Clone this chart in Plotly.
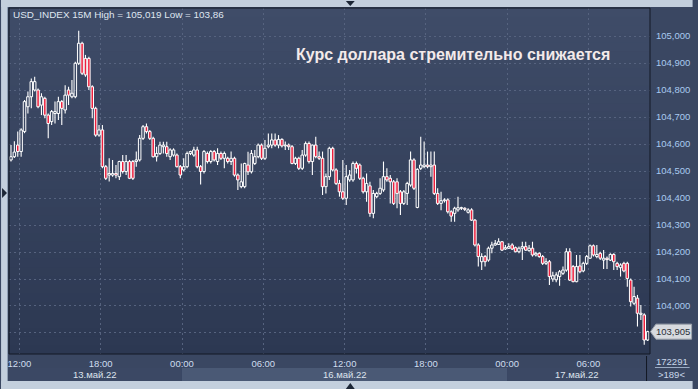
import plotly.graph_objects as go

# ---------------- data (USD_INDEX, 15M candles) ----------------
open_ = [
    104.541, 104.553, 104.596, 104.572, 104.646, 104.738, 104.775, 104.800, 104.800, 104.744,
    104.769, 104.707, 104.683, 104.713, 104.713, 104.757, 104.726, 104.800, 104.775, 104.775,
    104.899, 104.973, 104.917, 104.917, 104.812, 104.732, 104.633, 104.652, 104.516, 104.485,
    104.485, 104.491, 104.479, 104.535, 104.498, 104.535, 104.535, 104.535, 104.541, 104.621,
    104.664, 104.646, 104.621, 104.553, 104.565, 104.590, 104.590, 104.553, 104.559, 104.559,
    104.516, 104.504, 104.516, 104.565, 104.559, 104.578, 104.516, 104.498, 104.565, 104.535,
    104.572, 104.535, 104.565, 104.547, 104.547, 104.535, 104.547, 104.485,
    104.442, 104.442, 104.522, 104.497, 104.528, 104.553, 104.596, 104.547, 104.590, 104.596,
    104.615, 104.596, 104.617, 104.593, 104.596, 104.590, 104.528, 104.547, 104.510, 104.559,
    104.602, 104.535, 104.596, 104.553, 104.547, 104.442, 104.479, 104.584, 104.504, 104.454,
    104.423, 104.399, 104.467, 104.467, 104.528, 104.522, 104.473, 104.423, 104.445, 104.343,
    104.405, 104.417, 104.430, 104.479, 104.473, 104.460, 104.460, 104.423, 104.380, 104.417,
    104.448, 104.541, 104.365, 104.510, 104.516, 104.522, 104.516, 104.522, 104.417, 104.380,
    104.390, 104.393, 104.349,
    104.343, 104.356, 104.362, 104.362, 104.347, 104.356, 104.318, 104.226, 104.164, 104.183,
    104.170, 104.214, 104.226, 104.228, 104.238, 104.211, 104.214, 104.226, 104.216, 104.201,
    104.214, 104.220, 104.205, 104.214, 104.189, 104.195, 104.183, 104.158, 104.164, 104.100,
    104.097, 104.109, 104.121, 104.133, 104.201, 104.146, 104.090, 104.148, 104.130, 104.158,
    104.177, 104.223, 104.183, 104.195, 104.170, 104.177, 104.170, 104.191, 104.158, 104.142,
    104.158, 104.158, 104.096, 104.010, 104.029, 103.969, 103.967, 103.874,
]
high = [
    104.596, 104.610, 104.646, 104.658, 104.763, 104.794, 104.843, 104.849, 104.806, 104.788,
    104.775, 104.713, 104.726, 104.757, 104.775, 104.763, 104.818, 104.812, 104.837, 104.905,
    105.019, 104.979, 104.930, 104.923, 104.818, 104.738, 104.670, 104.670, 104.522, 104.547,
    104.541, 104.522, 104.538, 104.559, 104.559, 104.541, 104.541, 104.572, 104.633, 104.670,
    104.676, 104.652, 104.627, 104.590, 104.608, 104.608, 104.608, 104.584, 104.584, 104.565,
    104.522, 104.547, 104.572, 104.575, 104.590, 104.590, 104.522, 104.578, 104.572, 104.578,
    104.578, 104.584, 104.572, 104.572, 104.553, 104.572, 104.553, 104.491,
    104.528, 104.531, 104.571, 104.578, 104.578, 104.602, 104.602, 104.615, 104.639, 104.639,
    104.639, 104.633, 104.621, 104.609, 104.602, 104.596, 104.553, 104.553, 104.578, 104.609,
    104.609, 104.598, 104.627, 104.572, 104.572, 104.491, 104.590, 104.590, 104.510, 104.467,
    104.541, 104.522, 104.504, 104.535, 104.535, 104.528, 104.479, 104.491, 104.460, 104.430,
    104.423, 104.473, 104.535, 104.510, 104.485, 104.467, 104.473, 104.430, 104.430, 104.460,
    104.572, 104.547, 104.510, 104.627, 104.609, 104.572, 104.572, 104.572, 104.436, 104.423,
    104.399, 104.399, 104.355,
    104.368, 104.405, 104.368, 104.366, 104.362, 104.362, 104.322, 104.232, 104.195, 104.189,
    104.220, 104.238, 104.244, 104.251, 104.241, 104.226, 104.232, 104.232, 104.220, 104.220,
    104.238, 104.238, 104.226, 104.238, 104.201, 104.199, 104.189, 104.177, 104.170, 104.127,
    104.125, 104.133, 104.146, 104.214, 104.214, 104.152, 104.189, 104.189, 104.164, 104.189,
    104.228, 104.228, 104.226, 104.201, 104.207, 104.183, 104.195, 104.195, 104.164, 104.158,
    104.164, 104.164, 104.102, 104.071, 104.041, 104.004, 103.973, 103.908,
]
low = [
    104.535, 104.548, 104.553, 104.553, 104.640, 104.713, 104.732, 104.794, 104.732, 104.707,
    104.695, 104.621, 104.670, 104.676, 104.689, 104.670, 104.713, 104.744, 104.769, 104.769,
    104.893, 104.856, 104.849, 104.800, 104.695, 104.627, 104.627, 104.510, 104.467, 104.461,
    104.479, 104.473, 104.467, 104.491, 104.485, 104.470, 104.467, 104.516, 104.535, 104.615,
    104.639, 104.615, 104.550, 104.535, 104.559, 104.565, 104.553, 104.541, 104.553, 104.513,
    104.473, 104.498, 104.510, 104.559, 104.553, 104.510, 104.450, 104.491, 104.528, 104.528,
    104.535, 104.522, 104.541, 104.510, 104.528, 104.522, 104.479, 104.430,
    104.436, 104.436, 104.485, 104.491, 104.522, 104.547, 104.541, 104.541, 104.584, 104.584,
    104.590, 104.584, 104.587, 104.578, 104.578, 104.525, 104.522, 104.504, 104.504, 104.553,
    104.528, 104.485, 104.547, 104.541, 104.411, 104.417, 104.467, 104.498, 104.448, 104.405,
    104.393, 104.374, 104.460, 104.460, 104.491, 104.467, 104.417, 104.386, 104.331, 104.325,
    104.399, 104.411, 104.423, 104.460, 104.380, 104.374, 104.362, 104.337, 104.374, 104.374,
    104.442, 104.430, 104.362, 104.504, 104.510, 104.510, 104.479, 104.411, 104.374, 104.355,
    104.383, 104.343, 104.312,
    104.312, 104.349, 104.356, 104.352, 104.343, 104.315, 104.220, 104.146, 104.133, 104.146,
    104.164, 104.195, 104.223, 104.226, 104.204, 104.207, 104.211, 104.207, 104.199, 104.195,
    104.170, 104.204, 104.201, 104.183, 104.183, 104.179, 104.152, 104.152, 104.078, 104.090,
    104.088, 104.075, 104.115, 104.127, 104.093, 104.088, 104.088, 104.121, 104.125, 104.152,
    104.174, 104.183, 104.177, 104.170, 104.137, 104.137, 104.167, 104.133, 104.133, 104.109,
    104.125, 104.071, 103.998, 104.004, 103.924, 103.948, 103.856, 103.870,
]
close = [
    104.553, 104.570, 104.572, 104.652, 104.757, 104.775, 104.831, 104.831, 104.738, 104.775,
    104.707, 104.676, 104.720, 104.720, 104.757, 104.732, 104.781, 104.781, 104.788, 104.899,
    104.973, 104.862, 104.856, 104.812, 104.732, 104.633, 104.652, 104.516, 104.473, 104.491,
    104.491, 104.485, 104.535, 104.498, 104.535, 104.473, 104.473, 104.541, 104.621, 104.664,
    104.646, 104.621, 104.553, 104.565, 104.596, 104.596, 104.565, 104.578, 104.578, 104.516,
    104.485, 104.516, 104.565, 104.572, 104.578, 104.516, 104.498, 104.572, 104.535, 104.572,
    104.541, 104.565, 104.547, 104.565, 104.535, 104.547, 104.485, 104.467,
    104.460, 104.528, 104.497, 104.565, 104.553, 104.596, 104.547, 104.584, 104.596, 104.615,
    104.596, 104.617, 104.593, 104.596, 104.590, 104.528, 104.547, 104.510, 104.559, 104.602,
    104.535, 104.596, 104.553, 104.547, 104.442, 104.479, 104.584, 104.504, 104.454, 104.423,
    104.399, 104.479, 104.485, 104.528, 104.510, 104.473, 104.423, 104.454, 104.343, 104.417,
    104.417, 104.436, 104.479, 104.467, 104.460, 104.380, 104.417, 104.380, 104.423, 104.454,
    104.541, 104.436, 104.506, 104.522, 104.522, 104.516, 104.522, 104.417, 104.380, 104.390,
    104.393, 104.349, 104.333,
    104.362, 104.364, 104.364, 104.358, 104.356, 104.318, 104.226, 104.183, 104.183, 104.164,
    104.214, 104.226, 104.232, 104.238, 104.207, 104.216, 104.220, 104.211, 104.201, 104.214,
    104.220, 104.207, 104.214, 104.189, 104.195, 104.183, 104.158, 104.164, 104.109, 104.112,
    104.115, 104.127, 104.133, 104.201, 104.096, 104.090, 104.146, 104.127, 104.158, 104.183,
    104.223, 104.189, 104.191, 104.177, 104.177, 104.172, 104.191, 104.164, 104.146, 104.152,
    104.130, 104.102, 104.016, 104.035, 103.973, 103.973, 103.874, 103.905,
]
bar_index = list(range(len(close)))

time_tick_pos = [2.5, 26.5, 50.5, 74.5, 98.5, 122.5, 146.5, 170.5]
time_tick_text = ["12:00", "18:00", "00:00", "06:00", "12:00", "18:00", "00:00", "06:00"]
price_ticks = [103.9, 104.0, 104.1, 104.2, 104.3, 104.4, 104.5, 104.6, 104.7, 104.8, 104.9, 105.0]
price_tick_text = ["", "104,000", "104,100", "104,200", "104,300", "104,400", "104,500",
                   "104,600", "104,700", "104,800", "104,900", "105,000"]
date_labels = ["13.май.22", "16.май.22", "17.май.22"]
day_bounds = [-0.585, 50.5, 146.5, 187.7]

title_text = "USD_INDEX 15M High = 105,019 Low = 103,86"
headline = "Курс доллара стремительно снижается"
volume_text = "172291"
bars_text = ">189<"

# ---------------- geometry ----------------
W, H = 698, 389
ML, MR, MT, MB = 8, 43, 8, 35
PW, PH = W - ML - MR, H - MT - MB
X_RANGE = [-0.585, 188.7]
Y_RANGE = [103.8222, 105.1037]


def xp(px):
    return (px - ML) / PW


def yp(py):
    return (H - MB - py) / PH


def idx2paper(i):
    return (i - X_RANGE[0]) / (X_RANGE[1] - X_RANGE[0])


def val2paper(v):
    return (v - Y_RANGE[0]) / (Y_RANGE[1] - Y_RANGE[0])


FONT = "Liberation Sans, Arial, sans-serif"
UP_FILL = "rgba(0,0,0,0)"
DOWN_FILL = "#ec1f3d"
CANDLE_LINE = "#ffffff"
MIN_BODY = 0.0025

# ---------------- candles: wicks (scatter) + bodies (bars) ----------------
wick_x, wick_y = [], []
body_base, body_size, body_fill = [], [], []
for i, o, h, l, c in zip(bar_index, open_, high, low, close):
    top, bot = max(o, c), min(o, c)
    size = max(top - bot, MIN_BODY)
    mid = (top + bot) / 2
    top, bot = mid + size / 2, mid - size / 2
    if h > top:
        wick_x += [i, i, None]
        wick_y += [h, top, None]
    if l < bot:
        wick_x += [i, i, None]
        wick_y += [bot, l, None]
    body_base.append(bot)
    body_size.append(size)
    body_fill.append(UP_FILL if c >= o else DOWN_FILL)

fig = go.Figure()
fig.add_trace(go.Scatter(x=wick_x, y=wick_y, mode="lines",
                         line=dict(color=CANDLE_LINE, width=1.1),
                         hoverinfo="skip", showlegend=False))
fig.add_trace(go.Bar(x=bar_index, y=body_size, base=body_base, width=0.74,
                     marker=dict(color=body_fill, line=dict(color=CANDLE_LINE, width=1.0)),
                     hoverinfo="skip", showlegend=False))

shapes = []
# gradient background of plot area
N = 40
top_c = (63, 76, 104)
bot_c = (44, 56, 82)
for k in range(N):
    t = (k + 0.5) / N
    c = tuple(round(bot_c[j] + (top_c[j] - bot_c[j]) * t) for j in range(3))
    shapes.append(dict(type="rect", xref="paper", yref="paper", x0=0, x1=1,
                       y0=k / N, y1=(k + 1) / N + 0.002, layer="below",
                       line=dict(width=0), fillcolor="rgb(%d,%d,%d)" % c))

# date band (alternating)
band_cols = ["#3b4864", "#4a5975", "#3b4864"]
for d in range(3):
    shapes.append(dict(type="rect", xref="paper", yref="paper",
                       x0=idx2paper(day_bounds[d]), x1=idx2paper(day_bounds[d + 1]),
                       y0=yp(381), y1=yp(368), layer="below",
                       line=dict(width=0), fillcolor=band_cols[d]))

FRAME = "#c3cfdd"
# light outer frame
shapes.append(dict(type="rect", xref="paper", yref="paper", x0=xp(0), x1=xp(7),
                   y0=yp(389), y1=yp(0), line=dict(width=0), fillcolor=FRAME, layer="below"))
shapes.append(dict(type="rect", xref="paper", yref="paper", x0=xp(0), x1=xp(698),
                   y0=yp(7), y1=yp(0), line=dict(width=0), fillcolor=FRAME, layer="below"))
shapes.append(dict(type="rect", xref="paper", yref="paper", x0=xp(0), x1=xp(698),
                   y0=yp(389), y1=yp(381), line=dict(width=0), fillcolor=FRAME, layer="below"))
shapes.append(dict(type="line", xref="paper", yref="paper", x0=xp(6.5), x1=xp(6.5),
                   y0=yp(381), y1=yp(7), line=dict(width=1, color="#8e9db3"), layer="below"))


def tri(pts):
    d = "M " + " L ".join("%f,%f" % (xp(a), yp(b)) for a, b in pts) + " Z"
    return dict(type="path", xref="paper", yref="paper", path=d,
                line=dict(width=0), fillcolor="#1c2636", layer="above")


shapes.append(tri([(348, 1), (357, 1), (352.5, 6)]))
shapes.append(tri([(348, 389), (357, 389), (352.5, 383)]))
shapes.append(tri([(1, 188), (1, 198), (6, 193)]))

# plot border
shapes.append(dict(type="rect", xref="paper", yref="paper", x0=0, x1=1, y0=0, y1=1,
                   line=dict(width=1, color="#121824"), layer="above"))
shapes.append(dict(type="line", xref="paper", yref="paper", x0=xp(651.5), x1=xp(651.5),
                   y0=yp(381), y1=yp(356), line=dict(width=1, color="#121824"), layer="above"))
shapes.append(dict(type="line", xref="paper", yref="paper", x0=xp(660), x1=xp(695),
                   y0=yp(367.5), y1=yp(367.5), line=dict(width=1, color="#9aabc4"), layer="above"))

# current price marker
py_last = val2paper(close[-1])
hh = 7.5 / PH
path = "M %f,%f L %f,%f L %f,%f L %f,%f L %f,%f Z" % (
    xp(655.5), py_last, xp(661), py_last + hh, xp(697), py_last + hh,
    xp(697), py_last - hh, xp(661), py_last - hh)
shapes.append(dict(type="path", xref="paper", yref="paper", path=path,
                   line=dict(width=1, color="#9ea4ad"), fillcolor="#d7dadf", layer="above"))

annotations = [
    dict(text=title_text, xref="paper", yref="paper", x=xp(10), y=yp(15),
         xanchor="left", yanchor="middle", showarrow=False,
         font=dict(family=FONT, size=9.9, color="#dfe6f0")),
    dict(text=headline, xref="paper", yref="paper", x=xp(456.5), y=yp(54.5),
         xanchor="center", yanchor="middle", showarrow=False,
         font=dict(family=FONT, size=16, color="#f3eaea", weight="bold")),
    dict(text=("%.3f" % close[-1]).replace(".", ","), xref="paper", yref="paper",
         x=xp(678), y=py_last, xanchor="center", yanchor="middle", showarrow=False,
         font=dict(family=FONT, size=9.5, color="#2a2f38")),
    dict(text=volume_text, xref="paper", yref="paper", x=xp(677), y=yp(361.5),
         xanchor="center", yanchor="middle", showarrow=False,
         font=dict(family=FONT, size=9.5, color="#c9d7ea")),
    dict(text=bars_text, xref="paper", yref="paper", x=xp(677), y=yp(374.5),
         xanchor="center", yanchor="middle", showarrow=False,
         font=dict(family=FONT, size=9.5, color="#c9d7ea")),
]
for d in range(3):
    annotations.append(dict(
        text=date_labels[d], xref="paper", yref="paper",
        x=(idx2paper(day_bounds[d]) + idx2paper(day_bounds[d + 1])) / 2, y=yp(374.5),
        xanchor="center", yanchor="middle", showarrow=False,
        font=dict(family=FONT, size=9.5, color="#dde4ee")))

GRID = "#56637f"
fig.update_layout(
    width=W, height=H,
    margin=dict(l=ML, r=MR, t=MT, b=MB, pad=0),
    paper_bgcolor="#3a4762",
    plot_bgcolor="rgba(0,0,0,0)",
    showlegend=False,
    barmode="overlay",
    shapes=shapes,
    annotations=annotations,
    xaxis=dict(range=X_RANGE, tickvals=time_tick_pos, ticktext=time_tick_text,
               showgrid=True, gridcolor=GRID, griddash="2px,3px", gridwidth=1,
               zeroline=False, showline=False, ticks="outside", ticklen=1,
               tickcolor="rgba(0,0,0,0)",
               tickfont=dict(family=FONT, size=9.5, color="#cfdcee"), fixedrange=True),
    yaxis=dict(range=Y_RANGE, side="right", tickvals=price_ticks, ticktext=price_tick_text,
               showgrid=True, gridcolor=GRID, griddash="2px,3px", gridwidth=1,
               zeroline=False, showline=False, ticks="", ticklabelstandoff=5,
               tickfont=dict(family=FONT, size=9.5, color="#a9caf0"), fixedrange=True),
)

fig.write_html("out.html")
